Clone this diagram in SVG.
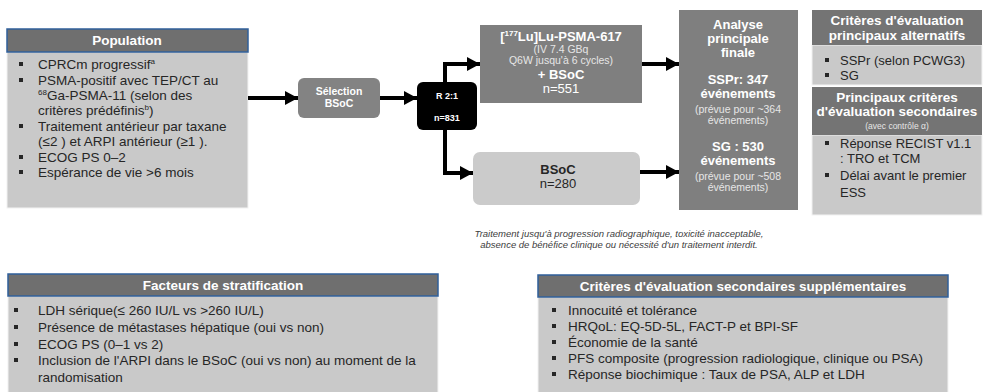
<svg xmlns="http://www.w3.org/2000/svg" width="984" height="392" viewBox="0 0 984 392">
<defs>
<marker id="ah" markerUnits="userSpaceOnUse" markerWidth="14" markerHeight="14" refX="13" refY="7" orient="auto">
<path d="M0,0 L13,7 L0,14 z" fill="#000"/>
</marker>
<style>
text{font-family:"Liberation Sans",Arial,sans-serif;}
.hdr{fill:#6f6f6f;stroke:#2f5f9a;stroke-width:1.5;}
.hdr2{fill:#747474;}
.body{fill:#c9c9c9;stroke:#f2f2f2;stroke-width:1;}
.ht{fill:#fff;font-weight:bold;font-size:13.5px;text-anchor:middle;}
.bt{fill:#262626;font-size:13.5px;}
.bt13{fill:#262626;font-size:13px;}
.bul{fill:#262626;}
.dark{fill:#7f7f7f;}
.wb{fill:#fff;font-weight:bold;font-size:13px;text-anchor:middle;}
.ws{fill:#e6e6e6;font-size:10.5px;text-anchor:middle;}
.conn{fill:none;stroke:#000;stroke-width:4;marker-end:url(#ah);}
.cap{fill:#404040;font-size:9.5px;font-style:italic;text-anchor:middle;}
</style>
</defs>
<rect width="984" height="392" fill="#fff"/>

<g id="population">
<rect class="body" x="7" y="52" width="241" height="156"/>
<rect class="hdr" x="7" y="29" width="241" height="23"/>
<text class="ht" x="127" y="45">Population</text>
<rect class="bul" x="19" y="62" width="4" height="4"/>
<text class="bt" x="38" y="69">CPRCm progressif<tspan font-size="8" dy="-5">a</tspan></text>
<rect class="bul" x="19" y="78" width="4" height="4"/>
<text class="bt" x="38" y="85">PSMA-positif avec TEP/CT au</text>
<text class="bt" x="38" y="100"><tspan font-size="8" dy="-5">68</tspan><tspan dy="5">Ga-PSMA-11 (selon des</tspan></text>
<text class="bt" x="38" y="115">critères prédéfinis<tspan font-size="8" dy="-5">b</tspan><tspan dy="5">)</tspan></text>
<rect class="bul" x="19" y="124" width="4" height="4"/>
<text class="bt" x="38" y="131">Traitement antérieur par taxane</text>
<text class="bt" x="38" y="146">(≤2 ) et ARPI antérieur (≥1 ).</text>
<rect class="bul" x="19" y="155" width="4" height="4"/>
<text class="bt" x="38" y="162">ECOG PS 0–2</text>
<rect class="bul" x="19" y="170" width="4" height="4"/>
<text class="bt" x="38" y="177">Espérance de vie &gt;6 mois</text>
</g>

<g id="selection">
<rect x="298" y="78" width="82" height="40" rx="6" fill="#838383"/>
<text x="339" y="95" fill="#fff" font-weight="bold" font-size="10.5" text-anchor="middle">Sélection</text>
<text x="339" y="107" fill="#fff" font-weight="bold" font-size="10.5" text-anchor="middle">BSoC</text>
</g>

<g id="randomisation">
<rect x="417" y="82" width="60" height="48" rx="6" fill="#000"/>
<text x="447" y="99" fill="#fff" font-weight="bold" font-size="9" text-anchor="middle">R 2:1</text>
<text x="447" y="121" fill="#fff" font-weight="bold" font-size="9" text-anchor="middle">n=831</text>
</g>

<g id="lu-psma">
<rect class="dark" x="480" y="25" width="162" height="78"/>
<text class="wb" x="561" y="41">[<tspan font-size="8" dy="-5">177</tspan><tspan dy="5">Lu]Lu-PSMA-617</tspan></text>
<text class="ws" x="561" y="53">(IV 7.4 GBq</text>
<text class="ws" x="561" y="64">Q6W jusqu'à 6 cycles)</text>
<text class="wb" x="561" y="79">+ BSoC</text>
<text x="561" y="93" fill="#fff" font-size="13" text-anchor="middle">n=551</text>
</g>

<g id="bsoc">
<rect x="473" y="152" width="167" height="53" rx="7" fill="#cbcbcb"/>
<text x="558" y="174" fill="#262626" font-weight="bold" font-size="13" text-anchor="middle">BSoC</text>
<text x="558" y="188" fill="#262626" font-size="13" text-anchor="middle">n=280</text>
</g>

<g id="analyse">
<rect class="dark" x="679" y="10" width="119" height="200"/>
<text class="wb" x="738" y="29" font-size="13.5">Analyse</text>
<text class="wb" x="738" y="43" font-size="13.5">principale</text>
<text class="wb" x="738" y="57" font-size="13.5">finale</text>
<text class="wb" x="738" y="84">SSPr: 347</text>
<text class="wb" x="738" y="98">événements</text>
<text class="ws" x="738" y="113" font-size="11">(prévue pour ~364</text>
<text class="ws" x="738" y="124" font-size="11">événements)</text>
<text class="wb" x="738" y="151">SG : 530</text>
<text class="wb" x="738" y="165">événements</text>
<text class="ws" x="738" y="180" font-size="11">(prévue pour ~508</text>
<text class="ws" x="738" y="191" font-size="11">événements)</text>
</g>

<g id="criteres-alternatifs">
<rect class="body" x="812" y="45" width="170" height="40"/>
<rect class="hdr2" x="812" y="10" width="170" height="35"/>
<text class="ht" x="897" y="25">Critères d'évaluation</text>
<text class="ht" x="897" y="40">principaux alternatifs</text>
<rect class="bul" x="825" y="58" width="4" height="4"/>
<text class="bt13" x="840" y="65">SSPr (selon PCWG3)</text>
<rect class="bul" x="825" y="73" width="4" height="4"/>
<text class="bt13" x="840" y="80">SG</text>
</g>

<g id="criteres-secondaires">
<rect class="body" x="812" y="135" width="170" height="80"/>
<rect class="hdr2" x="812" y="87" width="170" height="48"/>
<text class="ht" x="897" y="102">Principaux critères</text>
<text class="ht" x="897" y="116">d'évaluation secondaires</text>
<text x="897" y="129" fill="#e6e6e6" font-size="8.5" text-anchor="middle">(avec contrôle α)</text>
<rect class="bul" x="825" y="141" width="4" height="4"/>
<text class="bt13" x="840" y="148">Réponse RECIST v1.1</text>
<text class="bt13" x="840" y="163">: TRO et TCM</text>
<rect class="bul" x="825" y="173" width="4" height="4"/>
<text class="bt13" x="840" y="180">Délai avant le premier</text>
<text class="bt13" x="840" y="197">ESS</text>
</g>

<g id="note">
<text class="cap" x="619" y="237">Traitement jusqu'à progression radiographique, toxicité inacceptable,</text>
<text class="cap" x="619" y="248">absence de bénéfice clinique ou nécessité d'un traitement interdit.</text>
</g>

<g id="stratification">
<rect class="body" x="8" y="296" width="430" height="100"/>
<rect class="hdr" x="8" y="274" width="430" height="22"/>
<text class="ht" x="223" y="290">Facteurs de stratification</text>
<rect class="bul" x="14" y="308" width="4" height="4"/>
<text class="bt" x="38" y="315">LDH sérique(≤ 260 IU/L vs &gt;260 IU/L)</text>
<rect class="bul" x="14" y="325" width="4" height="4"/>
<text class="bt" x="38" y="332">Présence de métastases hépatique (oui vs non)</text>
<rect class="bul" x="14" y="342" width="4" height="4"/>
<text class="bt" x="38" y="349">ECOG PS (0–1 vs 2)</text>
<rect class="bul" x="14" y="358" width="4" height="4"/>
<text class="bt" x="38" y="365">Inclusion de l'ARPI dans le BSoC (oui vs non) au moment de la</text>
<text class="bt" x="38" y="382">randomisation</text>
</g>

<g id="secondaires-supplementaires">
<rect class="body" x="538" y="297" width="410" height="100"/>
<rect class="hdr" x="538" y="275" width="410" height="22"/>
<text class="ht" x="743" y="291">Critères d'évaluation secondaires supplémentaires</text>
<rect class="bul" x="552" y="308" width="4" height="4"/>
<text class="bt" x="568" y="315">Innocuité et tolérance</text>
<rect class="bul" x="552" y="324" width="4" height="4"/>
<text class="bt" x="568" y="331">HRQoL: EQ-5D-5L, FACT-P et BPI-SF</text>
<rect class="bul" x="552" y="340" width="4" height="4"/>
<text class="bt" x="568" y="347">Économie de la santé</text>
<rect class="bul" x="552" y="356" width="4" height="4"/>
<text class="bt" x="568" y="363">PFS composite (progression radiologique, clinique ou PSA)</text>
<rect class="bul" x="552" y="372" width="4" height="4"/>
<text class="bt" x="568" y="379">Réponse biochimique : Taux de PSA, ALP et LDH</text>
</g>

<g id="connectors">
<path class="conn" d="M248,98 H298"/>
<path class="conn" d="M380,98 H417"/>
<path class="conn" d="M445,82 V64 H480"/>
<path class="conn" d="M445,130 V173 H473"/>
<path class="conn" d="M642,64 H679"/>
<path class="conn" d="M640,172 H679"/>
</g>
</svg>
